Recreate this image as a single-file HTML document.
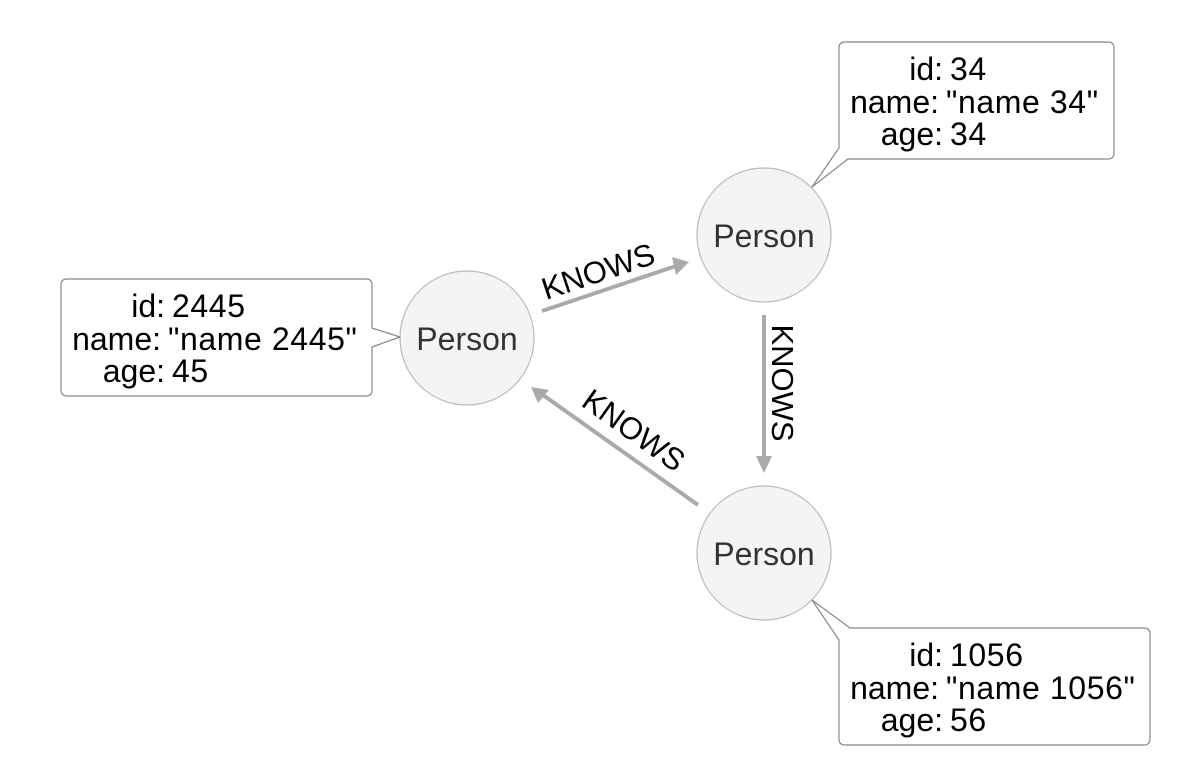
<!DOCTYPE html>
<html><head><style>html,body{margin:0;padding:0;background:#fff}</style></head>
<body>
<svg width="1180" height="778" xmlns="http://www.w3.org/2000/svg" font-family="Liberation Sans, Arial, sans-serif">
<rect width="1180" height="778" fill="#fff"/>
<g stroke="#aaaaaa" stroke-width="4" fill="none">
<line x1="542" y1="311" x2="676" y2="266"/>
<line x1="764" y1="315" x2="764" y2="458"/>
<line x1="698" y1="505" x2="543" y2="395"/>
</g>
<g fill="#aaaaaa">
<polygon points="689,262 672,257 676,275"/>
<polygon points="764,473 756,456 772,456"/>
<polygon points="531,387 538,403 549,390"/>
</g>
<g font-size="31" fill="#000" text-anchor="middle">
<text transform="translate(598,271) rotate(-18.5)" dy="11">KNOWS</text>
<text transform="translate(783,383) rotate(90)" dy="11">KNOWS</text>
<text transform="translate(634,430) rotate(35.4)" dy="11">KNOWS</text>
</g>
<g fill="#f4f4f6" stroke="#bbbbbb" stroke-width="1.2">
<circle cx="467" cy="338" r="67"/>
<circle cx="764" cy="235" r="67"/>
<circle cx="764" cy="553" r="67"/>
</g>
<g font-size="32" fill="#333" text-anchor="middle">
<text x="467" y="350">Person</text>
<text x="764" y="247">Person</text>
<text x="764" y="565">Person</text>
</g>
<g fill="#fff" stroke="#888" stroke-width="1.2" stroke-linejoin="round">
<path d="M67,279 H366 Q372,279 372,285 V328 L400,337 L372,347 V390 Q372,396 366,396 H67 Q61,396 61,390 V285 Q61,279 67,279 Z"/>
<path d="M845,42 H1108 Q1114,42 1114,48 V153 Q1114,159 1108,159 H848 L812,187 L839,148 V48 Q839,42 845,42 Z"/>
<path d="M850,628 H1144 Q1150,628 1150,634 V739 Q1150,745 1144,745 H845 Q839,745 839,739 V640 L812,600 Z"/>
</g>
<g font-size="32" fill="#000">
<g text-anchor="end">
<text x="165" y="317">id:</text><text x="161" y="350">name:</text><text x="165" y="382">age:</text>
<text x="943" y="80">id:</text><text x="939" y="113">name:</text><text x="943" y="145">age:</text>
<text x="943" y="666">id:</text><text x="939" y="699">name:</text><text x="943" y="731">age:</text>
</g>
<g letter-spacing="0.6">
<text x="172" y="317">2445</text><text x="168" y="350">"name 2445"</text><text x="172" y="382">45</text>
<text x="950" y="80">34</text><text x="946" y="113">"name 34"</text><text x="950" y="145">34</text>
<text x="950" y="666">1056</text><text x="946" y="699">"name 1056"</text><text x="950" y="731">56</text>
</g>
</g>
</svg>
</body></html>
